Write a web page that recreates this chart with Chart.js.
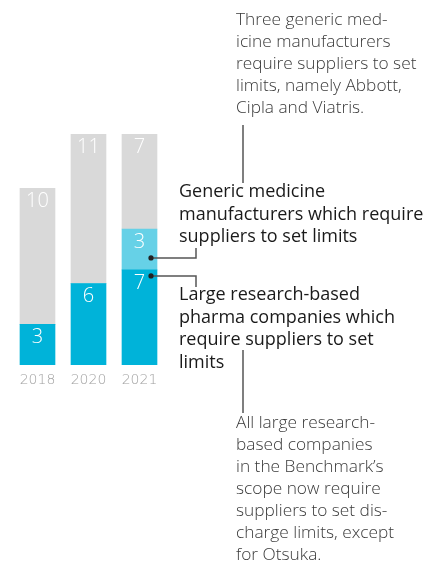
<!DOCTYPE html>
<html>
<head>
<meta charset="utf-8">
<script src="https://cdn.jsdelivr.net/npm/chart.js@4"></script>
<style>
  html, body { margin: 0; padding: 0; background: #ffffff; }
  #wrap { position: relative; width: 445px; height: 572px; }
</style>
</head>
<body>
<div id="wrap"><canvas id="limitsChart" width="445" height="572"></canvas></div>
<script>
// Companies requiring suppliers to set discharge limits, per Benchmark year
const years = ['2018', '2020', '2021'];
const researchBased = [3, 6, 7];     // large research-based pharma companies
const genericMakers = [0, 0, 3];     // generic medicine manufacturers
const notRequiring = [10, 11, 7];    // remaining companies in scope

const topNote = ['Three generic med-', 'icine manufacturers', 'require suppliers to set', 'limits, namely Abbott,', 'Cipla and Viatris.'];
const genericLabel = ['Generic medicine', 'manufacturers which require', 'suppliers to set limits'];
const researchLabel = ['Large research-based', 'pharma companies which', 'require suppliers to set', 'limits'];
const bottomNote = ['All large research-', 'based companies', 'in the Benchmark\u2019s', 'scope now require', 'suppliers to set dis-', 'charge limits, except', 'for Otsuka.'];

const BLUE = '#00b3d9';
const LIGHT_BLUE = '#66d1e7';
const GREY = '#d9d9d9';

// Value numbers inside each segment, plus callouts and notes
const labelsPlugin = {
    id: 'labelsPlugin',
    afterDatasetsDraw(chart) {
        const ctx = chart.ctx;
        ctx.save();
        ctx.fillStyle = '#ffffff';
        ctx.font = '300 20px "Open Sans"';
        ctx.textAlign = 'center';
        ctx.textBaseline = 'middle';
        chart.data.datasets.forEach((ds, di) => {
            const meta = chart.getDatasetMeta(di);
            meta.data.forEach((bar, i) => {
                const v = ds.data[i];
                if (!v) return;
                ctx.fillText(String(v), bar.x, bar.y + 13);
            });
        });

        // callout dots on the 2021 bar
        const bar21 = chart.getDatasetMeta(0).data[2];
        const gen21 = chart.getDatasetMeta(1).data[2];
        const dotX = bar21.x + 11.5;
        const genY = gen21.base - 12;
        const resY = bar21.y + 6;
        const elbowX = dotX + 45;

        ctx.strokeStyle = '#555555';
        ctx.lineWidth = 1.5;
        ctx.beginPath();
        ctx.moveTo(dotX, genY);
        ctx.lineTo(elbowX, genY);
        ctx.lineTo(elbowX, genY - 10);
        ctx.moveTo(dotX, resY);
        ctx.lineTo(elbowX, resY);
        ctx.lineTo(elbowX, resY + 11);
        // leaders for the notes above and below
        ctx.moveTo(243, 125);
        ctx.lineTo(243, 183);
        ctx.moveTo(243, 350);
        ctx.lineTo(243, 413);
        ctx.stroke();

        ctx.fillStyle = '#222222';
        [genY, resY].forEach(y => {
            ctx.beginPath();
            ctx.arc(dotX, y, 2.6, 0, Math.PI * 2);
            ctx.fill();
        });

        // series labels
        ctx.textAlign = 'left';
        ctx.fillStyle = '#1a1a1a';
        ctx.font = '18px "Open Sans"';
        genericLabel.forEach((t, i) => ctx.fillText(t, 179, 192 + i * 22.5));
        researchLabel.forEach((t, i) => ctx.fillText(t, 179, 295 + i * 22.5));

        // notes
        ctx.fillStyle = '#3a3a3a';
        ctx.font = '300 17.3px "Open Sans"';
        topNote.forEach((t, i) => ctx.fillText(t, 236, 20 + i * 22));
        bottomNote.forEach((t, i) => ctx.fillText(t, 236, 423 + i * 22));
        ctx.restore();
    }
};

new Chart(document.getElementById('limitsChart'), {
    type: 'bar',
    data: {
        labels: years,
        datasets: [
            { label: 'Large research-based', data: researchBased, backgroundColor: BLUE },
            { label: 'Generic manufacturers', data: genericMakers, backgroundColor: LIGHT_BLUE },
            { label: 'Other companies', data: notRequiring, backgroundColor: GREY }
        ]
    },
    options: {
        responsive: false,
        animation: false,
        layout: { padding: { top: 134, left: 12, right: 280, bottom: 179 } },
        datasets: { bar: { barThickness: 35, borderWidth: 0 } },
        scales: {
            x: {
                stacked: true,
                grid: { display: false, drawTicks: false },
                border: { display: false },
                afterFit(scale) { scale.height = 28; },
                ticks: {
                    color: '#a0a0a0',
                    padding: 7,
                    font: { family: 'DejaVu Sans', size: 14, weight: 200 }
                }
            },
            y: {
                stacked: true,
                display: false,
                min: 0,
                max: 17
            }
        },
        plugins: {
            legend: { display: false },
            tooltip: { enabled: false }
        }
    },
    plugins: [labelsPlugin]
});
</script>
</body>
</html>
